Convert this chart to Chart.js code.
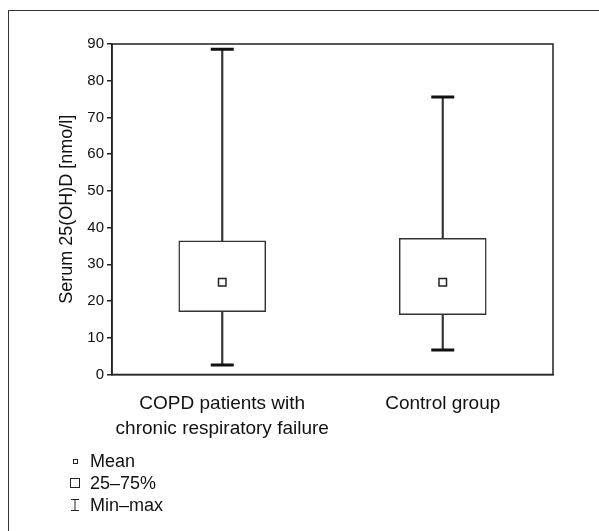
<!DOCTYPE html>
<html>
<head>
<meta charset="utf-8">
<script src="https://cdn.jsdelivr.net/npm/chart.js@4.4.0/dist/chart.umd.min.js"></script>
<style>
  body { margin: 0; background: #fff; font-family: "Liberation Sans", Arial, sans-serif; }
  #wrap { position: relative; width: 599px; height: 531px; overflow: hidden; }
  #frame { position: absolute; left: 8px; top: 10px; width: 600px; height: 530px; border-left: 1.5px solid #333; border-top: 1.5px solid #333; }
  canvas { position: absolute; left: 0; top: 0; }
  .key { position: absolute; left: 90px; height: 22px; line-height: 22px; font-size: 18px; color: #111; white-space: nowrap; }
  .sym { position: absolute; box-sizing: border-box; border: 1px solid #222; background: #fff; }
  .key svg { position: absolute; left: -20px; top: 5px; }
</style>
</head>
<body>
<div id="wrap">
  <div id="frame"></div>
  <canvas id="chart" width="599" height="531"></canvas>
  <div id="legend"></div>
</div>
<script>
// groups on the x axis
var groups = [['COPD patients with', 'chronic respiratory failure'], 'Control group'];
// serum 25(OH)D, nmo/l
var minVals = [2.6, 6.7];
var q1Vals = [17.1, 16.3];
var meanVals = [25.1, 25.1];
var q3Vals = [36.4, 37.1];
var maxVals = [88.6, 75.6];
// y axis
var yMin = 0, yMax = 90, yStep = 10;
var yTitle = 'Serum 25(OH)D [nmo/l]';
// legend
var keyLabels = ['Mean', '25\u201375%', 'Min\u2013max'];

var boxes = q1Vals.map(function(v, i) { return [v, q3Vals[i]]; });
var ranges = minVals.map(function(v, i) { return [v, maxVals[i]]; });

Chart.defaults.font.family = "'Liberation Sans', Arial, sans-serif";
Chart.defaults.color = '#111';

var plotFrame = {
    id: 'plotFrame',
    afterDraw: function(chart) {
        var a = chart.chartArea, ctx = chart.ctx;
        ctx.save();
        ctx.strokeStyle = '#222';
        ctx.lineWidth = 1.5;
        ctx.strokeRect(a.left, a.top, a.right - a.left, a.bottom - a.top);
        ctx.restore();
    }
};

new Chart(document.getElementById('chart').getContext('2d'), {
    type: 'bar',
    data: {
        labels: groups,
        datasets: [{
            type: 'line',
            label: keyLabels[0],
            data: meanVals,
            showLine: false,
            pointStyle: 'rect',
            pointRadius: 5.3,
            pointBackgroundColor: '#fff',
            pointBorderColor: '#222',
            pointBorderWidth: 1.5,
            order: 0
        }, {
            type: 'line',
            label: 'max',
            data: maxVals,
            showLine: false,
            pointStyle: 'line',
            pointRadius: 11.5,
            pointBorderColor: '#111',
            pointBorderWidth: 3,
            order: 1
        }, {
            type: 'line',
            label: 'min',
            data: minVals,
            showLine: false,
            pointStyle: 'line',
            pointRadius: 11.5,
            pointBorderColor: '#111',
            pointBorderWidth: 3,
            order: 1
        }, {
            type: 'bar',
            label: keyLabels[1],
            data: boxes,
            backgroundColor: '#fff',
            borderColor: '#333',
            borderWidth: 1.5,
            borderSkipped: false,
            grouped: false,
            barThickness: 87,
            order: 2
        }, {
            type: 'bar',
            label: keyLabels[2],
            data: ranges,
            backgroundColor: '#333',
            borderWidth: 0,
            grouped: false,
            barThickness: 1.5,
            order: 3
        }]
    },
    options: {
        responsive: false,
        animation: false,
        devicePixelRatio: 1,
        layout: {
            padding: { left: 0, top: 44, right: 46, bottom: 76.5 }
        },
        plugins: {
            legend: { display: false },
            tooltip: { enabled: false }
        },
        scales: {
            x: {
                offset: true,
                grid: { display: false },
                border: { display: true, color: '#222', width: 1.5 },
                ticks: {
                    font: { size: 19, lineHeight: 1.3 },
                    padding: 9,
                    color: '#111',
                    maxRotation: 0
                },
                afterFit: function(s) { s.height = 80; }
            },
            y: {
                min: yMin,
                max: yMax,
                ticks: {
                    stepSize: yStep,
                    font: { size: 15 },
                    padding: 3,
                    color: '#111'
                },
                grid: {
                    drawOnChartArea: false,
                    drawTicks: true,
                    tickLength: 5,
                    color: '#222',
                    lineWidth: 1.5
                },
                border: { color: '#222', width: 1.5 },
                title: {
                    display: true,
                    text: yTitle,
                    font: { size: 18, lineHeight: 1.2 },
                    color: '#111',
                    padding: { top: 56, bottom: 0 }
                },
                afterFit: function(s) { s.width = 112; }
            }
        }
    },
    plugins: [plotFrame]
});

// legend below the chart
var legend = document.getElementById('legend');
var keyTops = [450, 472, 494];
keyLabels.forEach(function(txt, i) {
    var row = document.createElement('div');
    row.className = 'key';
    row.style.top = keyTops[i] + 'px';
    var sym;
    if (i === 0) {
        sym = document.createElement('span');
        sym.className = 'sym';
        sym.style.cssText = 'left:-17.5px;top:8.5px;width:5px;height:5px;';
    } else if (i === 1) {
        sym = document.createElement('span');
        sym.className = 'sym';
        sym.style.cssText = 'left:-20px;top:6px;width:10px;height:10px;';
    } else {
        sym = document.createElementNS('http://www.w3.org/2000/svg', 'svg');
        sym.setAttribute('width', '10');
        sym.setAttribute('height', '12');
        sym.innerHTML = '<path d="M1 0.5H9M5 0.5V11.5M1 11.5H9" stroke="#222" stroke-width="1" fill="none"/>';
    }
    row.appendChild(sym);
    row.appendChild(document.createTextNode(txt));
    legend.appendChild(row);
});
</script>
</body>
</html>
